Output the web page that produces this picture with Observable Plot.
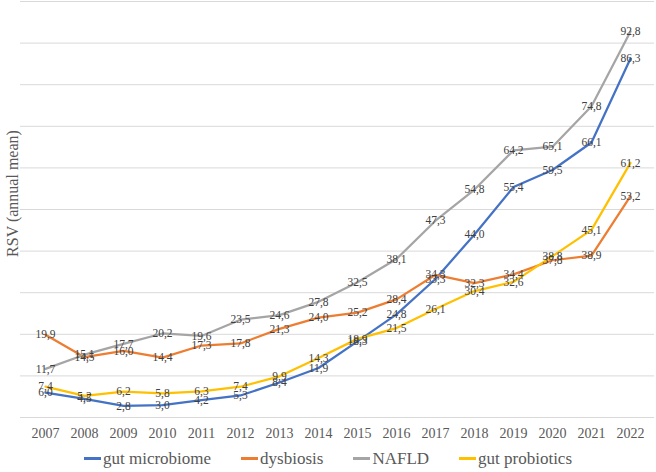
<!DOCTYPE html>
<html>
<head>
<meta charset="utf-8">
<script src="https://cdn.jsdelivr.net/npm/d3@7"></script>
<script src="https://cdn.jsdelivr.net/npm/@observablehq/plot@0.6"></script>
<style>
  html, body { margin: 0; padding: 0; background: #fff; }
  #wrap { width: 656px; height: 472px; font-family: "Liberation Serif", "DejaVu Serif", "Noto Serif", serif; }
  #legend { display: flex; justify-content: center; align-items: center; height: 27px; font-size: 17px; color: #595959; }
  .item { display: flex; align-items: center; margin: 0 15px; }
  .sw { width: 17px; height: 2.5px; margin-right: 2px; }
  svg text { font-family: "Liberation Serif", "DejaVu Serif", "Noto Serif", serif; }
</style>
</head>
<body>
<div id="wrap"><div id="chart"></div><div id="legend"></div></div>
<script>
const years = ["2007","2008","2009","2010","2011","2012","2013","2014","2015","2016","2017","2018","2019","2020","2021","2022"];
const seriesNames = ["gut microbiome", "dysbiosis", "NAFLD", "gut probiotics"];
const seriesColors = ["#4472C4", "#ED7D31", "#A5A5A5", "#FFC000"];
const gutMicrobiome = [6.0, 4.5, 2.8, 3.0, 4.2, 5.3, 8.4, 11.9, 18.3, 24.8, 33.3, 44.0, 55.4, 59.5, 66.1, 86.3];
const dysbiosis = [19.9, 14.5, 16.0, 14.4, 17.3, 17.8, 21.3, 24.0, 25.2, 28.4, 34.3, 32.3, 34.4, 37.8, 38.9, 53.2];
const nafld = [11.7, 15.1, 17.7, 20.2, 19.6, 23.5, 24.6, 27.8, 32.5, 38.1, 47.3, 54.8, 64.2, 65.1, 74.8, 92.8];
const gutProbiotics = [7.4, 5.2, 6.2, 5.8, 6.3, 7.4, 9.9, 14.3, 18.9, 21.5, 26.1, 30.4, 32.6, 38.8, 45.1, 61.2];
const yGrid = [0, 10, 20, 30, 40, 50, 60, 70, 80, 90, 100];
const yTitle = "RSV (annual mean)";

const seriesValues = [gutMicrobiome, dysbiosis, nafld, gutProbiotics];
const data = seriesValues.flatMap((vals, s) => vals.map((v, i) => ({series: seriesNames[s], year: years[i], value: v})));
const fmt = v => v.toFixed(1).replace(".", ",");
const serif = "'Liberation Serif', 'DejaVu Serif', 'Noto Serif', serif";

const chart = Plot.plot({
  width: 656,
  height: 445,
  marginLeft: 20,
  marginRight: 2,
  marginTop: 1,
  marginBottom: 28,
  style: {fontFamily: serif, background: "white", color: "#595959"},
  x: {type: "point", domain: years, padding: 0.5, label: null},
  y: {domain: [0, 100], axis: null},
  color: {domain: seriesNames, range: seriesColors},
  marks: [
    Plot.ruleY(yGrid, {stroke: "#d9d9d9", strokeWidth: 1}),
    Plot.axisX({tickSize: 0, tickPadding: 11, fontSize: 14, label: null}),
    Plot.lineY(data, {x: "year", y: "value", z: "series", stroke: "series", strokeWidth: 2.25, strokeLinejoin: "round", strokeLinecap: "round"}),
    Plot.text(data, {x: "year", y: "value", text: d => fmt(d.value), fill: "#404040", fontSize: 11.5}),
    Plot.text([yTitle], {frameAnchor: "left", textAnchor: "middle", rotate: -90, dx: -8, dy: -16, fontSize: 16, fill: "#595959"})
  ]
});
document.getElementById("chart").appendChild(chart);

const legend = document.getElementById("legend");
seriesNames.forEach((name, i) => {
  const item = document.createElement("div");
  item.className = "item";
  const sw = document.createElement("div");
  sw.className = "sw";
  sw.style.background = seriesColors[i];
  const label = document.createElement("span");
  label.textContent = name;
  item.appendChild(sw);
  item.appendChild(label);
  legend.appendChild(item);
});
</script>
</body>
</html>
